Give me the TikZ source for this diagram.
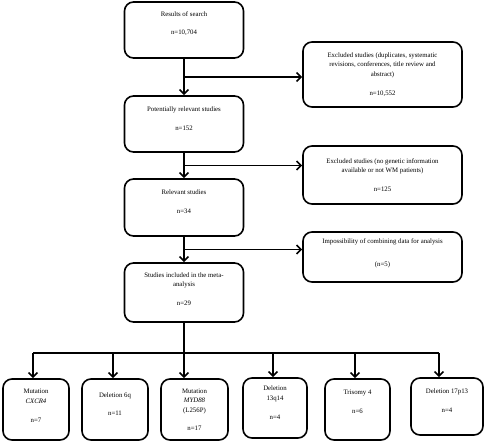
\documentclass[tikz,border=0pt]{standalone}
\usepackage{fontspec}
\setmainfont{Liberation Serif}
\usetikzlibrary{arrows.meta,calc}

\tikzset{
  flowbox/.style={rectangle,rounded corners=9pt,draw=black,line width=1.6pt,
    align=center,inner sep=2pt,font=\fontsize{6.8}{9.5}\selectfont},
  mainbox/.style={flowbox,minimum width=119pt,minimum height=56pt},
  sidebox/.style={flowbox,minimum width=159pt},
  leafbox/.style={flowbox,minimum height=61pt},
  flowarrow/.style={line width=1.6pt,-{Straight Barb[length=4.5pt,width=9pt,line width=1.6pt]}},
  flowline/.style={line width=1.6pt}
}

\begin{document}
\begin{tikzpicture}[x=1pt,y=-1pt]
\useasboundingbox (0,0) rectangle (485,444);

% main column
\node[mainbox,text depth=13.5pt] (search) at (184,30) {Results of search\\[8.5pt] n=10,704};
\node[mainbox,text depth=11.5pt] (potential) at (184,124) {Potentially relevant studies\\[9.5pt] n=152};
\node[mainbox,minimum height=57pt,text depth=11.5pt] (relevant) at (184,207.5) {Relevant studies\\[9.5pt] n=34};
\node[mainbox,minimum height=59pt,text depth=6.5pt] (included) at (184,292.5) {Studies included in the meta-\\analysis\\[9.5pt] n=29};

% exclusions
\node[sidebox,minimum height=65pt] (excluded1) at (382.5,74.5) {Excluded studies (duplicates, systematic\\ revisions, conferences, title review and\\ abstract)\\[9.5pt] n=10,552};
\node[sidebox,minimum height=58pt] (excluded2) at (382.5,175) {Excluded studies (no genetic information\\ available or not WM patients)\\[9.5pt] n=125};
\node[sidebox,minimum height=50pt,text depth=8.5pt] (impossible) at (382.5,257) {Impossibility of combining data for analysis\\[13.5pt] (n=5)};

% results per alteration
\node[leafbox,minimum width=66pt,text depth=7.5pt] (cxcr) at (36,409.5) {Mutation\\ \textit{CXCR4}\\[9.5pt] n=7};
\node[leafbox,minimum width=66pt,text depth=10.5pt] (del6q) at (115,409.5) {Deletion 6q\\[8.5pt] n=11};
\node[leafbox,minimum width=67pt] (myd) at (194.5,409.5) {Mutation\\ \textit{MYD88}\\ (L256P)\\[8.5pt] n=17};
\node[leafbox,minimum width=64pt,minimum height=60pt,text depth=10.5pt] (del13q) at (275,408) {Deletion\\ 13q14\\[9.5pt] n=4};
\node[leafbox,minimum width=65pt,text depth=15.5pt] (trisomy) at (357.5,409.5) {Trisomy 4\\[9.5pt] n=6};
\node[leafbox,minimum width=72pt,minimum height=57pt,text depth=11.5pt] (del17p) at (447,406.5) {Deletion 17p13\\[9.5pt] n=4};

% connectors
\coordinate (split1) at ($(search.south)!0.5!(potential.north)$);
\coordinate (split2) at ($(potential.south)!0.5!(relevant.north)$);
\coordinate (split3) at ($(relevant.south)!0.5!(included.north)$);
\draw[flowarrow] (search) -- (potential);
\draw[flowarrow] (potential) -- (relevant);
\draw[flowarrow] (relevant) -- (included);
\draw[flowarrow] (split1) -- (excluded1.west |- split1);
\draw[flowarrow] (split2) -- (excluded2.west |- split2);
\draw[flowarrow] (split3) -- (impossible.west |- split3);

\coordinate (bus) at ($(included.south)+(0,30)$);
\foreach \name/\x in {cxcr/33,del6q/113,myd/184,del13q/273,trisomy/355,del17p/439}{
  \coordinate (drop-\name) at (\x,0 |- bus);
  \draw[flowarrow] (drop-\name) -- (drop-\name |- \name.north);
}
\draw[flowline] (included) -- (bus);
\draw[flowline] (drop-cxcr) -- (drop-del17p);
\end{tikzpicture}
\end{document}
